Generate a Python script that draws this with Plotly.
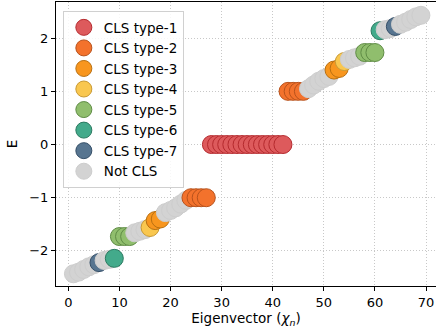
import plotly.graph_objects as go

# ---- data -------------------------------------------------------------
eig_index = list(range(1, 70))
energy = [
    -2.43, -2.40, -2.35, -2.30, -2.26, -2.22, -2.18, -2.16, -2.14,
    -1.73, -1.73, -1.73, -1.66, -1.63, -1.60, -1.56, -1.43, -1.40,
    -1.28, -1.24, -1.19, -1.12, -1.05, -1.00, -1.00, -1.00, -1.00,
    0.0, 0.0, 0.0, 0.0, 0.0, 0.0, 0.0, 0.0, 0.0, 0.0, 0.0, 0.0, 0.0, 0.0, 0.0,
    1.00, 1.00, 1.00, 1.00, 1.05, 1.12, 1.19, 1.24, 1.28,
    1.40, 1.43, 1.56, 1.60, 1.63, 1.66, 1.73, 1.73, 1.73,
    2.14, 2.16, 2.18, 2.22, 2.26, 2.30, 2.35, 2.40, 2.43,
]
# 0 = not CLS, k = CLS type-k
cls_type = [
    0, 0, 0, 0, 0, 7, 0, 0, 6,
    5, 5, 5, 0, 0, 0, 4, 3, 3,
    0, 0, 0, 0, 0, 2, 2, 2, 2,
    1, 1, 1, 1, 1, 1, 1, 1, 1, 1, 1, 1, 1, 1, 1,
    2, 2, 2, 2, 0, 0, 0, 0, 0,
    3, 3, 4, 0, 0, 0, 5, 5, 5,
    6, 0, 0, 7, 0, 0, 0, 0, 0,
]
type_labels = ["Not CLS", "CLS type-1", "CLS type-2", "CLS type-3", "CLS type-4",
               "CLS type-5", "CLS type-6", "CLS type-7"]
fill_colors = ["#d3d3d3", "#dd5a5c", "#f3722c", "#f8961e", "#f9c74f",
               "#90be6d", "#43aa8b", "#577590"]
edge_colors = ["#cdcdcd", "#b52a2e", "#b8521c", "#b87012", "#c99a34",
               "#5f8c45", "#2a7a60", "#354f68"]
x_ticks = [0, 10, 20, 30, 40, 50, 60, 70]
y_ticks = [-2, -1, 0, 1, 2]

# ---- figure -----------------------------------------------------------
MS = 18
fig = go.Figure()
fig.add_trace(go.Scatter(
    x=eig_index, y=energy, mode="markers", showlegend=False,
    marker=dict(size=MS,
                color=[fill_colors[t] for t in cls_type],
                line=dict(color=[edge_colors[t] for t in cls_type], width=1)),
    hoverinfo="x+y",
))
legend_order = [1, 2, 3, 4, 5, 6, 7, 0]
for t in legend_order:
    fig.add_trace(go.Scatter(
        x=[None], y=[None], mode="markers", name=type_labels[t],
        marker=dict(size=MS, color=fill_colors[t],
                    line=dict(color=edge_colors[t], width=1)),
    ))

font = "DejaVu Sans, Verdana, sans-serif"
fig.update_layout(
    width=436, height=336,
    margin=dict(l=56, r=0, t=2, b=50, autoexpand=False),
    paper_bgcolor="white", plot_bgcolor="white",
    font=dict(family=font, size=13, color="black"),
    showlegend=True,
    legend=dict(x=0.018, y=0.968, xanchor="left", yanchor="top",
                bgcolor="rgba(255,255,255,0.85)", bordercolor="#d0d0d0",
                borderwidth=1, font=dict(size=13.5, family=font),
                itemsizing="trace", tracegroupgap=0),
    xaxis=dict(range=[-2.41, 71.95], tickvals=x_ticks, ticks="outside",
               ticklen=4, tickcolor="black", showline=True, linecolor="black",
               linewidth=1.2, mirror=True, showgrid=True, gridcolor="#c8c8c8",
               griddash="1px,2px", zeroline=False, automargin=False,
               title=dict(text="Eigenvector (<i>χ<sub>n</sub></i>)", standoff=4,
                          font=dict(size=13.5))),
    yaxis=dict(range=[-2.66, 2.68], tickvals=y_ticks, ticks="outside",
               ticklen=4, tickcolor="black", showline=True, linecolor="black",
               linewidth=1.2, mirror=False, showgrid=True, gridcolor="#c8c8c8",
               griddash="1px,2px", zeroline=False, automargin=False,
               title=dict(text="E", standoff=8, font=dict(size=13.5))),
)
fig.write_html("out.html", config={"displayModeBar": False},
               post_script="document.body.style.margin='0';document.body.style.padding='0';")
